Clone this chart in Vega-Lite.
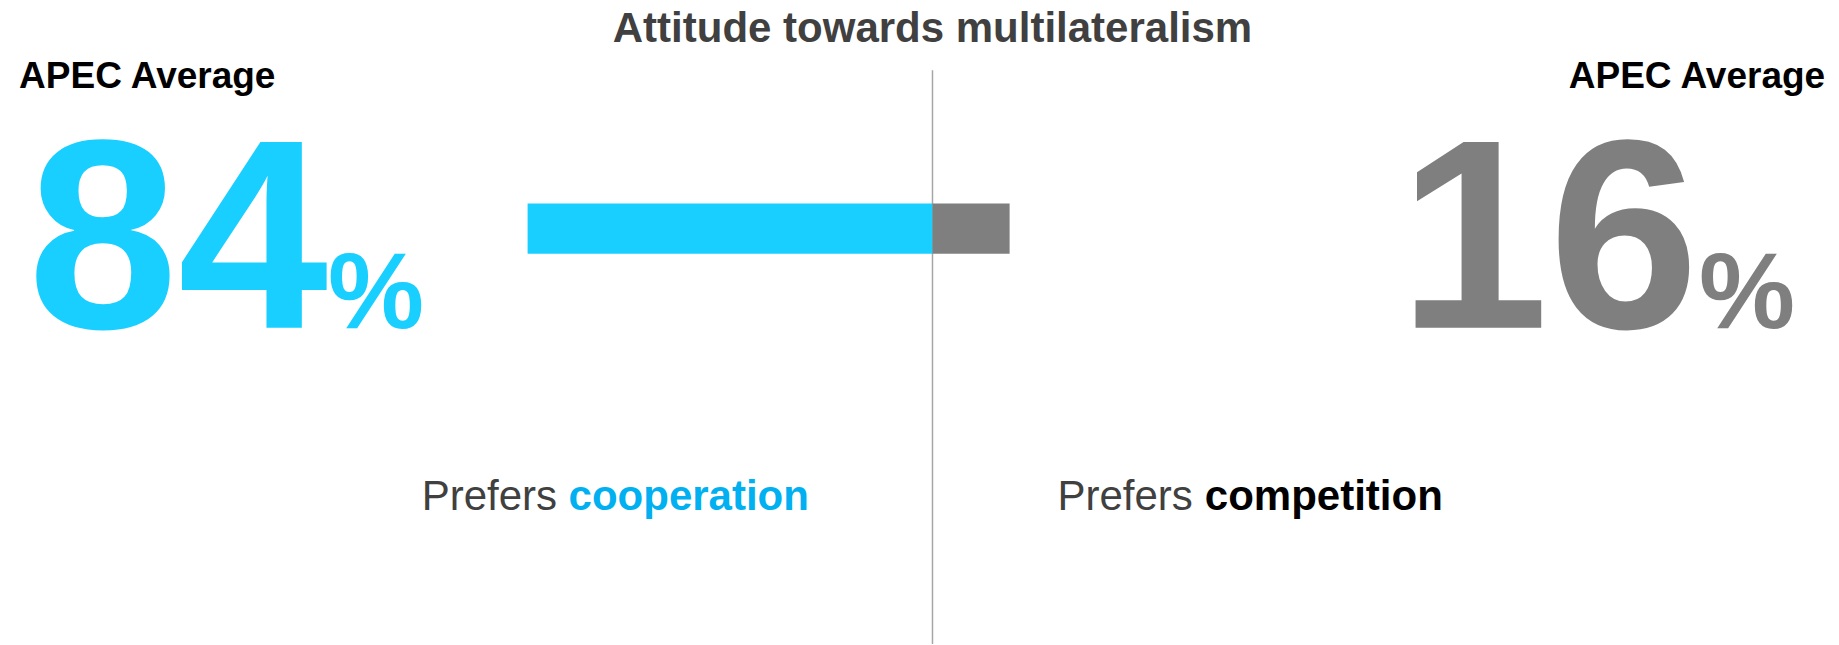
{
  "$schema": "https://vega.github.io/schema/vega-lite/v6.json",
  "width": 1839,
  "height": 645,
  "padding": 0,
  "autosize": {"type": "fit", "contains": "padding"},
  "background": "white",
  "config": {"view": {"stroke": null}, "font": "Liberation Sans, Arial, sans-serif", "text": {"font": "Liberation Sans, Arial, sans-serif"}},
  "data": {
    "values": [
      {"side": "cooperation", "label": "Prefers", "word": "cooperation", "value": 84, "start": -84, "end": 0},
      {"side": "competition", "label": "Prefers", "word": "competition", "value": 16, "start": 0, "end": 16}
    ]
  },
  "encoding": {
    "x": {"type": "quantitative", "scale": {"domain": [-193.46, 188.07], "nice": false, "zero": false}, "axis": null},
    "y": {"type": "quantitative", "scale": {"domain": [0, 100], "reverse": true, "nice": false, "zero": false}, "axis": null}
  },
  "layer": [
    {
      "mark": {"type": "rule", "color": "#A6A6A6", "strokeWidth": 1.5},
      "transform": [{"filter": "datum.side === 'cooperation'"}],
      "encoding": {"x": {"datum": 0}, "y": {"datum": 10.9}, "y2": {"datum": 100}}
    },
    {
      "mark": {"type": "rect"},
      "encoding": {
        "x": {"field": "start"},
        "x2": {"field": "end"},
        "y": {"datum": 31.6},
        "y2": {"datum": 39.4},
        "color": {"field": "side", "type": "nominal", "scale": {"domain": ["cooperation", "competition"], "range": ["#18CFFF", "#7F7F7F"]}, "legend": null}
      }
    },
    {
      "mark": {"type": "text", "font": "Liberation Sans", "text": "Attitude towards multilateralism", "fontSize": 42, "fontWeight": "bold", "color": "#404040", "align": "center", "baseline": "alphabetic"},
      "transform": [{"filter": "datum.side === 'cooperation'"}],
      "encoding": {"x": {"datum": 0}, "y": {"datum": 6.5}}
    },
    {
      "mark": {"type": "text", "font": "Liberation Sans", "text": "APEC Average", "fontSize": 37, "fontWeight": "bold", "color": "#000000", "align": "left", "baseline": "alphabetic"},
      "transform": [{"filter": "datum.side === 'cooperation'"}],
      "encoding": {"x": {"datum": -189.5}, "y": {"datum": 13.6}}
    },
    {
      "mark": {"type": "text", "font": "Liberation Sans", "text": "APEC Average", "fontSize": 37, "fontWeight": "bold", "color": "#000000", "align": "right", "baseline": "alphabetic"},
      "transform": [{"filter": "datum.side === 'competition'"}],
      "encoding": {"x": {"datum": 185.2}, "y": {"datum": 13.6}}
    },
    {
      "mark": {"type": "text", "font": "Liberation Sans", "fontSize": 270, "fontWeight": "bold", "color": "#18CFFF", "align": "right", "baseline": "alphabetic"},
      "transform": [{"filter": "datum.side === 'cooperation'"}],
      "encoding": {"x": {"datum": -125.4}, "y": {"datum": 50.9}, "text": {"field": "value"}}
    },
    {
      "mark": {"type": "text", "font": "Liberation Sans", "text": "%", "fontSize": 108, "fontWeight": "bold", "color": "#18CFFF", "align": "left", "baseline": "alphabetic"},
      "transform": [{"filter": "datum.side === 'cooperation'"}],
      "encoding": {"x": {"datum": -125.4}, "y": {"datum": 50.9}}
    },
    {
      "mark": {"type": "text", "font": "Liberation Sans", "fontSize": 270, "fontWeight": "bold", "color": "#7F7F7F", "align": "right", "baseline": "alphabetic"},
      "transform": [{"filter": "datum.side === 'competition'"}],
      "encoding": {"x": {"datum": 159.0}, "y": {"datum": 50.9}, "text": {"field": "value"}}
    },
    {
      "mark": {"type": "text", "font": "Liberation Sans", "text": "%", "fontSize": 108, "fontWeight": "bold", "color": "#7F7F7F", "align": "left", "baseline": "alphabetic"},
      "transform": [{"filter": "datum.side === 'competition'"}],
      "encoding": {"x": {"datum": 159.0}, "y": {"datum": 50.9}}
    },
    {
      "mark": {"type": "text", "font": "Liberation Sans", "fontSize": 42, "color": "#404040", "align": "right", "baseline": "alphabetic"},
      "transform": [{"filter": "datum.side === 'cooperation'"}],
      "encoding": {"x": {"datum": -77.9}, "y": {"datum": 79.2}, "text": {"field": "label"}}
    },
    {
      "mark": {"type": "text", "font": "Liberation Sans", "fontSize": 42, "fontWeight": "bold", "color": "#00B0F0", "align": "left", "baseline": "alphabetic"},
      "transform": [{"filter": "datum.side === 'cooperation'"}],
      "encoding": {"x": {"datum": -75.5}, "y": {"datum": 79.2}, "text": {"field": "word"}}
    },
    {
      "mark": {"type": "text", "font": "Liberation Sans", "fontSize": 42, "color": "#404040", "align": "right", "baseline": "alphabetic"},
      "transform": [{"filter": "datum.side === 'competition'"}],
      "encoding": {"x": {"datum": 54.0}, "y": {"datum": 79.2}, "text": {"field": "label"}}
    },
    {
      "mark": {"type": "text", "font": "Liberation Sans", "fontSize": 42, "fontWeight": "bold", "color": "#000000", "align": "left", "baseline": "alphabetic"},
      "transform": [{"filter": "datum.side === 'competition'"}],
      "encoding": {"x": {"datum": 56.5}, "y": {"datum": 79.2}, "text": {"field": "word"}}
    }
  ]
}
